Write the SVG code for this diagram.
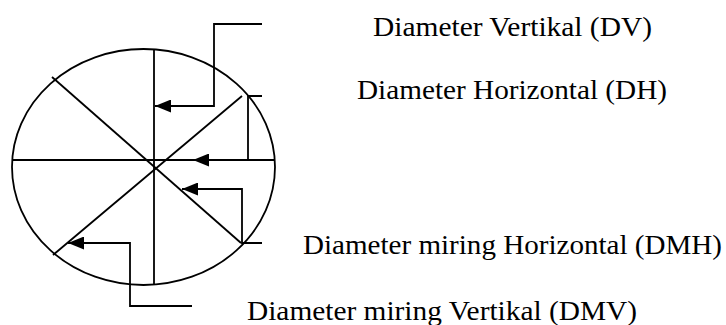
<svg xmlns="http://www.w3.org/2000/svg" width="726" height="325" viewBox="0 0 726 325">
  <style>
    .ln { fill: none; stroke: #000; stroke-width: 1.8; }
    .lbl { font-family: "Liberation Serif", "Times New Roman", serif; font-size: 28px; fill: #000; }
  </style>
  <defs>
    <marker id="arr" markerUnits="userSpaceOnUse" markerWidth="17" markerHeight="13" refX="16" refY="6.5" orient="auto">
      <path d="M0,0 L16,6.5 L0,13 z" fill="#000"/>
    </marker>
  </defs>
  <rect width="726" height="325" fill="#fff"/>
  <g id="circle">
    <ellipse class="ln" cx="143.5" cy="167" rx="131.5" ry="118"/>
    <line class="ln" x1="154" y1="49" x2="154" y2="285"/>
    <line class="ln" x1="12" y1="160" x2="275" y2="160"/>
    <line class="ln" x1="52" y1="77" x2="241" y2="243"/>
    <line class="ln" x1="242" y1="96" x2="53" y2="255"/>
  </g>
  <g id="connectors">
    <path class="ln" d="M262,24 H214 V106 H155" marker-end="url(#arr)"/>
    <path class="ln" d="M262,96 H248 V160 H193" marker-end="url(#arr)"/>
    <path class="ln" d="M262,243 H242 V189 H182" marker-end="url(#arr)"/>
    <path class="ln" d="M192,306 H130 V243 H68" marker-end="url(#arr)"/>
  </g>
  <g id="dv"><text class="lbl" x="373" y="36" textLength="279" lengthAdjust="spacingAndGlyphs">Diameter Vertikal (DV)</text></g>
  <g id="dh"><text class="lbl" x="357" y="99" textLength="310" lengthAdjust="spacingAndGlyphs">Diameter Horizontal (DH)</text></g>
  <g id="dmh"><text class="lbl" x="303" y="254" textLength="419" lengthAdjust="spacingAndGlyphs">Diameter miring Horizontal (DMH)</text></g>
  <g id="dmv"><text class="lbl" x="247" y="320" textLength="390" lengthAdjust="spacingAndGlyphs">Diameter miring Vertikal (DMV)</text></g>
</svg>
